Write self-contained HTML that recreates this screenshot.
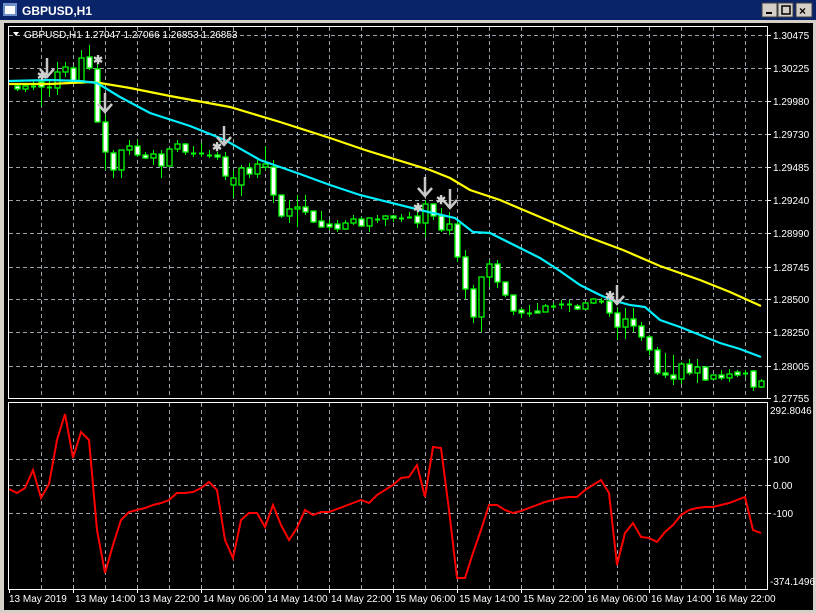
<!DOCTYPE html>
<html><head><meta charset="utf-8"><style>
html,body{margin:0;padding:0;width:816px;height:613px;overflow:hidden;background:#d4d0c8}
svg{display:block}
text{font-family:"Liberation Sans",sans-serif;font-size:10px;fill:#fff}
</style></head><body>
<svg id="s" width="816" height="613" xmlns="http://www.w3.org/2000/svg">
<rect x="0" y="0" width="816" height="613" fill="#d4d0c8"/>
<rect x="0" y="0" width="816" height="20" fill="#0a246a"/>
<rect x="3" y="3" width="14" height="13" fill="#6f8fc8"/>
<rect x="5" y="6" width="10" height="8" fill="#fff"/>
<text x="22" y="15" style="font-size:12px;font-weight:bold">GBPUSD,H1</text>
<g stroke="#404040" fill="#d4d0c8">
<rect x="762" y="3" width="15" height="14"/><rect x="778" y="3" width="15" height="14"/><rect x="796" y="3" width="16" height="14"/>
</g>
<rect x="766" y="12" width="6" height="2" fill="#000"/>
<rect x="782" y="6" width="8" height="8" fill="none" stroke="#000" stroke-width="1.5"/>
<text x="799" y="15" style="fill:#000;font-size:12px;font-weight:bold">×</text>
<rect x="4" y="23" width="809" height="587" fill="#000"/>
<g id="grid" stroke="#9aa2ac" stroke-dasharray="4,3" stroke-width="1"></g>
<g id="plot"></g>
<rect x="8.5" y="26.5" width="759" height="372" fill="none" stroke="#fff"/>
<rect x="8.5" y="402.5" width="759" height="187" fill="none" stroke="#fff"/>
<polygon points="13,32 19,32 16,36" fill="#fff"/>
<text x="24" y="38" style="font-size:10px">GBPUSD,H1  1.27047 1.27066 1.26853 1.26853</text>
<g id="lab"></g>
</svg>
<script>
var NS="http://www.w3.org/2000/svg",grid=document.getElementById('grid'),plot=document.getElementById('plot'),lab=document.getElementById('lab');
function el(p,t,a,txt){var e=document.createElementNS(NS,t);for(var k in a)e.setAttribute(k,a[k]);if(txt!=null)e.textContent=txt;p.appendChild(e);return e;}
for(var k=1;k<=23;k++){var x=9+32*k+0.5;el(grid,'line',{x1:x,y1:27,x2:x,y2:398});el(grid,'line',{x1:x,y1:403,x2:x,y2:589});}
var py=[35,68,101,134,167,200,233,267,299,332,366,398],pl=["1.30475","1.30225","1.29980","1.29730","1.29485","1.29240","1.28990","1.28745","1.28500","1.28250","1.28005","1.27755"];
py.forEach(function(y,i){if(i<11)el(grid,'line',{x1:9,y1:y+.5,x2:767,y2:y+.5});el(lab,'line',{x1:767,y1:y+.5,x2:771,y2:y+.5,stroke:'#fff'});el(lab,'text',{x:773,y:y+4},pl[i]);});
[[459,"100"],[485,"0.00"],[513,"-100"]].forEach(function(a){el(grid,'line',{x1:9,y1:a[0]+.5,x2:767,y2:a[0]+.5});el(lab,'line',{x1:767,y1:a[0]+.5,x2:771,y2:a[0]+.5,stroke:'#fff'});el(lab,'text',{x:773,y:a[0]+4},a[1]);});
el(lab,'text',{x:770,y:414},"292.8046");el(lab,'text',{x:770,y:585},"-374.1496");
var tl=["13 May 2019","13 May 14:00","13 May 22:00","14 May 06:00","14 May 14:00","14 May 22:00","15 May 06:00","15 May 14:00","15 May 22:00","16 May 06:00","16 May 14:00","16 May 22:00"];
tl.forEach(function(t,i){var x=9+64*i;el(lab,'line',{x1:x+.5,y1:589,x2:x+.5,y2:593,stroke:'#fff'});el(lab,'text',{x:x+(i?2:0),y:602},t);});
var C=[[1,86,89,84,91,'w'],[2,86,89,84,92,'b'],[3,86,87,80,90,'d'],[4,82,87,78,106,'w'],[5,87,88,80,97,'d'],[6,72,88,62,95,'b'],[7,67,72,62,77,'b'],[8,68,83,66,84,'w'],[9,58,83,50,84,'b'],[10,57,68,45,70,'w'],[11,69,122,62,122,'w'],[12,122,152,115,170,'w'],[13,153,170,150,178,'w'],[14,150,170,150,178,'b'],[15,146,150,140,155,'b'],[16,146,155,140,157,'w'],[17,155,158,152,159,'w'],[18,154,158,150,165,'b'],[19,154,166,150,178,'w'],[20,149,166,148,166,'b'],[21,144,149,140,152,'b'],[22,144,152,143,155,'w'],[23,153,153,146,157,'d'],[24,153,153,143,157,'d'],[25,155,155,150,158,'d'],[26,155,157,152,160,'w'],[27,157,176,152,180,'w'],[28,178,185,170,198,'b'],[29,168,185,165,196,'b'],[30,168,174,163,178,'w'],[31,164,174,160,178,'b'],[32,164,167,146,170,'b'],[33,167,195,160,203,'w'],[34,195,216,200,218,'w'],[35,209,216,200,223,'b'],[36,207,209,195,227,'b'],[37,207,212,195,215,'w'],[38,211,222,211,223,'w'],[39,221,227,211,228,'w'],[40,224,227,220,230,'w'],[41,224,229,220,232,'w'],[42,223,229,220,230,'b'],[43,219,223,215,225,'b'],[44,219,226,217,227,'w'],[45,218,226,218,232,'b'],[46,219,219,215,223,'d'],[47,216,219,215,226,'b'],[48,216,218,215,222,'w'],[49,218,218,214,222,'d'],[50,217,217,212,218,'d'],[51,216,223,208,228,'w'],[52,204,223,200,237,'b'],[53,204,216,204,220,'w'],[54,216,230,208,232,'w'],[55,224,230,212,235,'b'],[56,224,257,220,262,'w'],[57,257,289,250,299,'w'],[58,289,317,285,323,'w'],[59,277,317,277,332,'b'],[60,264,277,260,287,'b'],[61,264,282,260,288,'w'],[62,282,295,282,297,'w'],[63,295,311,295,315,'w'],[64,310,313,308,318,'w'],[65,313,313,305,317,'d'],[66,311,313,303,313,'w'],[67,306,312,304,312,'b'],[68,306,306,303,309,'d'],[69,304,304,300,309,'d'],[70,304,304,300,312,'d'],[71,306,309,304,310,'w'],[72,303,309,302,310,'b'],[73,299,303,298,304,'b'],[74,301,301,298,304,'d'],[75,301,313,300,317,'w'],[76,313,327,308,340,'w'],[77,319,327,308,339,'b'],[78,319,326,308,332,'w'],[79,326,337,322,341,'w'],[80,337,350,335,355,'w'],[81,350,373,347,375,'w'],[82,373,375,353,378,'w'],[83,375,379,355,385,'w'],[84,364,379,362,384,'b'],[85,364,373,359,375,'w'],[86,367,373,359,383,'b'],[87,367,380,366,381,'w'],[88,375,379,375,380,'b'],[89,375,378,370,380,'w'],[90,374,378,369,382,'b'],[91,372,375,370,377,'w'],[92,373,373,370,377,'d'],[93,371,387,370,391,'w'],[94,381,387,379,388,'b']];
var G='#00ff00';
C.forEach(function(c){var x=9+8*c[0];el(plot,'line',{x1:x+.5,y1:c[3],x2:x+.5,y2:c[4],stroke:G});
 if(c[5]=='d'){el(plot,'line',{x1:x-2,y1:c[1]+.5,x2:x+3,y2:c[1]+.5,stroke:G,'stroke-width':2});}
 else el(plot,'rect',{x:x-2,y:c[1],width:5,height:Math.max(2,c[2]-c[1]),fill:c[5]=='w'?'#fff':'#000',stroke:G,'stroke-width':1.3});});
function pl2(pts,col,w,g){el(g||plot,'polyline',{points:pts,fill:'none',stroke:col,'stroke-width':w});}
pl2("9,84 50,84 90,82 100,83 130,88 170,96 230,107 280,122 330,138 365,150 430,170 450,178 470,190 500,200 540,217 580,234 623,250 660,266 700,280 730,292 761,306",'#ffff00',2.2);
pl2("9,81 50,80 80,81 97,83 120,97 150,113 190,126 225,140 260,160 300,174 330,185 360,195 420,210 455,218 473,232 490,233 520,248 540,258 560,271 580,285 600,295 612,300 630,305 645,307 660,320 680,327 700,335 720,343 740,349 761,357",'#00f0ff',2.2);
pl2("9,489 17,493 25,488 33,470 41,498 49,484 57,440 65,414 73,458 81,432 89,440 97,530 105,573 113,545 121,520 129,512 137,510 145,508 153,505 161,503 169,500 177,493 185,493 193,492 201,488 209,482 217,490 225,540 233,558 241,520 249,513 257,513 265,527 273,505 281,525 289,540 297,528 305,510 313,515 321,512 329,512 337,509 345,506 353,503 361,500 369,503 377,495 385,490 393,485 401,478 409,477 417,465 425,497 433,447 441,448 449,510 457,578 465,578 473,553 481,530 489,505 497,505 505,510 513,513 521,511 529,508 537,505 545,502 553,500 561,498 569,497 577,497 585,490 593,485 601,480 609,493 617,565 625,533 633,523 641,537 649,538 657,542 665,532 673,525 681,515 689,510 697,508 705,507 713,507 721,505 729,503 737,500 745,497 753,530 761,533",'#ff0000',2);
function arrow(x,y){pl2(x+","+y+" "+x+","+(y+18),'#c8c8c8',2.5);pl2((x-7)+","+(y+11)+" "+x+","+(y+19)+" "+(x+7)+","+(y+11),'#c8c8c8',2.5);}
function star(x,y){el(plot,'text',{x:x-4,y:y+4,style:'fill:#d0d0d0;font-size:12px;font-weight:bold'},"✱");}
[[47,58],[105,93],[224,126],[425,177],[450,189],[617,285]].forEach(function(a){arrow(a[0],a[1]);});
[[41,76],[97,60],[216,147],[417,208],[440,200],[609,296]].forEach(function(a){star(a[0],a[1]);});
</script>
</body></html>
